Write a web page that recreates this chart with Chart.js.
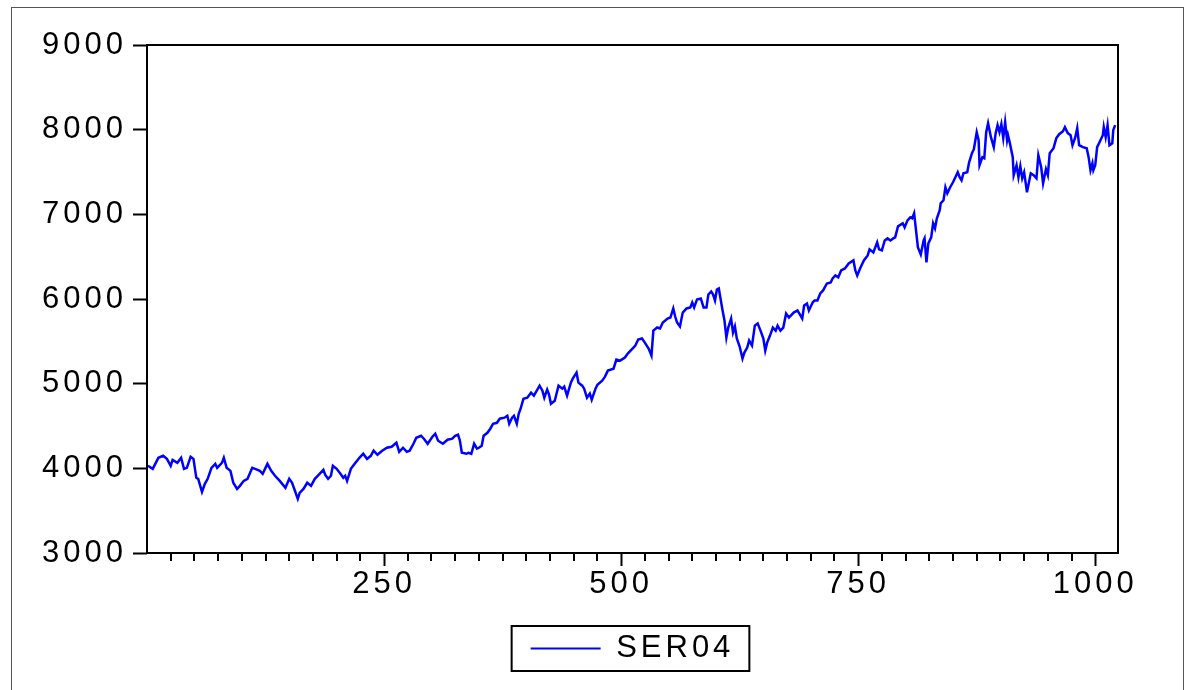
<!DOCTYPE html>
<html>
<head>
<meta charset="utf-8">
<script src="https://cdn.jsdelivr.net/npm/chart.js@4/dist/chart.umd.min.js"></script>
<style>
  html, body { margin: 0; padding: 0; background: #fff; }
  #wrap { width: 1185px; height: 690px; }
</style>
</head>
<body>
<div id="wrap"><canvas id="myChart" width="1185" height="690"></canvas></div>
<script>
/* globals Chart:false */

const obs = [1,6,12,17,21,25,27,32,36,39,42,46,49,52,54,58,61,64,68,72,74,79,81,84,88,91,95,98,102,106,111,114,119,122,127,131,135,140,146,150,153,156,159,
  161,165,169,173,177,180,186,188,191,194,196,200,204,207,209,211,215,219,224,228,232,236,239,243,248,253,258,263,266,270,274,277,281,284,289,292,296,
  301,304,307,312,317,322,325,328,330,332,337,339,342,345,348,350,353,355,359,362,365,369,372,377,380,382,385,387,390,392,394,397,
  401,405,408,414,417,419,422,424,426,430,434,438,440,443,447,449,453,455,459,461,464,467,469,473,475,480,483,486,492,495,499,
  504,507,512,515,518,522,525,529,532,534,538,541,544,549,552,555,557,559,562,565,569,573,575,577,580,584,587,590,592,595,597,599,
  601,603,607,609,611,613,616,618,620,622,625,628,630,633,635,638,641,644,647,650,652,654,657,660,663,665,668,671,674,677,682,686,688,691,693,696,698,
  702,704,707,710,713,717,721,723,726,729,732,736,740,745,747,749,752,756,760,762,766,768,770,772,775,778,781,784,787,789,792,797,799,
  802,805,807,809,811,813,816,819,820,822,824,827,829,831,833,836,837,840,842,844,847,850,855,857,859,861,865,867,870,872,875,877,878,881,883,885,887,890,893,895,897,899,
  901,903,905,907,908,910,913,914,917,919,921,923,925,927,928,932,935,938,940,943,945,948,950,952,956,959,962,966,968,971,974,976,979,981,983,987,991,993,995,997,998,
  1000,1002,1004,1008,1009,1011,1013,1015,1018,1019,1021];
const ser04 = [4030,3994,4124,4148,4112,4030,4100,4065,4124,3994,4006,4136,4112,3888,3876,3722,3817,3876,4006,4053,4006,4065,4124,4006,3970,3830,3757,3793,3852,3876,4006,3994,3970,3935,4053,3970,3912,3852,3770,3876,3830,3735,3640,
  3710,3757,3830,3793,3876,3912,3982,3923,3876,3912,4030,3994,3935,3888,3912,3852,3994,4053,4124,4172,4112,4148,4208,4160,4208,4243,4255,4302,4195,4243,4195,4208,4290,4361,4385,4350,4290,
  4373,4409,4326,4290,4338,4350,4385,4397,4326,4184,4172,4184,4172,4290,4232,4243,4267,4385,4420,4468,4527,4538,4586,4598,4621,4527,4598,4621,4527,4645,4704,4822,
  4834,4893,4858,4976,4917,4834,4929,4870,4763,4799,4976,4941,4964,4858,5012,5059,5130,5012,4976,4941,4834,4882,4811,4941,4988,5036,5083,5154,5177,5284,5272,
  5308,5355,5414,5450,5521,5533,5485,5414,5331,5627,5663,5651,5722,5769,5781,5888,5793,5722,5675,5840,5888,5900,5959,5900,5994,6006,5900,5900,6053,6089,6053,5982,
  6112,6124,5864,5746,5545,5663,5769,5604,5675,5533,5438,5296,5367,5426,5509,5450,5686,5710,5627,5533,5391,5485,5568,5663,5627,5686,5627,5663,5828,5781,5840,5864,5828,5769,5923,5947,5864,
  5959,5982,5982,6065,6101,6183,6195,6243,6278,6255,6337,6361,6420,6456,6337,6278,6361,6456,6515,6586,6550,6610,6669,6586,6574,6692,6716,6692,6716,6728,6858,6894,6846,
  6929,6965,6953,7012,6811,6610,6527,6692,6716,6432,6657,6728,6894,6835,6953,7048,7130,7166,7320,7249,7320,7379,7497,7438,7402,7485,7497,7615,7722,7769,7970,7876,7580,7675,7663,7970,8077,7911,7793,7959,8053,7970,
  8065,7900,8089,7876,7935,7840,7675,7462,7580,7438,7568,7426,7497,7343,7260,7485,7462,7426,7698,7556,7367,7533,7462,7722,7781,7900,7947,7982,8030,7959,7935,7817,7911,8018,7817,7793,7781,7675,7521,7604,7521,
  7580,7793,7840,7935,8030,7911,8053,7817,7840,7994,8053];

const xTicks = [250, 500, 750, 1000];
const yTicks = [3000, 4000, 5000, 6000, 7000, 8000, 9000];

const FONT = "'Liberation Sans', Arial, sans-serif";
const SPACING = '4px';

// eviews style frame, minor ticks, legend box
const framePlugin = {
  id: 'frame',
  beforeUpdate(chart) { chart.ctx.letterSpacing = SPACING; },
  beforeDraw(chart) {
    const ctx = chart.ctx;
    ctx.letterSpacing = SPACING;
    ctx.save();
    ctx.strokeStyle = '#555';
    ctx.lineWidth = 1;
    ctx.strokeRect(11.5, 7.5, 1172, 720);
    ctx.restore();
  },
  afterDraw(chart) {
    const ctx = chart.ctx;
    const a = chart.chartArea;
    const xs = chart.scales.x;
    ctx.save();
    ctx.strokeStyle = '#000';
    ctx.lineWidth = 2;
    ctx.strokeRect(a.left, a.top, a.right - a.left, a.bottom - a.top);
    ctx.beginPath();
    for (let v = 25; v < xs.max; v += 25) {
      if (v % 250 === 0) continue;
      const px = Math.round(xs.getPixelForValue(v));
      ctx.moveTo(px, a.bottom);
      ctx.lineTo(px, a.bottom + 8);
    }
    ctx.stroke();
    // box round the legend
    const hb = chart.legend.legendHitBoxes[0];
    if (hb) {
      ctx.lineWidth = 2;
      ctx.strokeRect(hb.left - 19, chart.legend.top + 3, hb.width + 34, 45);
    }
    ctx.restore();
  }
};

new Chart(document.getElementById('myChart'), {
  type: 'line',
  data: {
    datasets: [{
      label: 'SER04',
      data: obs.map((o, i) => ({ x: o, y: ser04[i] })),
      borderColor: '#0000FF',
      backgroundColor: '#0000FF',
      borderWidth: 2.5,
      pointRadius: 0,
      tension: 0
    }]
  },
  options: {
    responsive: false,
    animation: false,
    events: [],
    layout: { padding: { left: 0, right: 67, top: 45, bottom: 16 } },
    scales: {
      x: {
        type: 'linear',
        min: 0,
        max: 1024,
        afterBuildTicks: (s) => { s.ticks = xTicks.map(v => ({ value: v })); },
        afterFit: (s) => { s.height = 70; },
        border: { display: false },
        grid: { drawOnChartArea: false, tickLength: 13, tickWidth: 2, tickColor: '#000' },
        ticks: { color: '#000', padding: 0, maxRotation: 0, callback: (v) => String(v), font: { family: FONT, size: 31 } }
      },
      y: {
        min: 3000,
        max: 9000,
        afterBuildTicks: (s) => { s.ticks = yTicks.map(v => ({ value: v })); },
        afterFit: (s) => { s.width = 147; },
        border: { display: false },
        grid: { drawOnChartArea: false, tickLength: 14, tickWidth: 2, tickColor: '#000' },
        ticks: { color: '#000', padding: 6, callback: (v) => String(v), font: { family: FONT, size: 31 } }
      }
    },
    plugins: {
      tooltip: { enabled: false },
      legend: {
        position: 'bottom',
        fullSize: false,
        labels: {
          color: '#000',
          boxWidth: 70,
          boxHeight: 2,
          padding: 10,
          font: { family: FONT, size: 31 },
          generateLabels: (chart) => Chart.defaults.plugins.legend.labels.generateLabels(chart)
            .map(l => ({ ...l, lineWidth: 0, fillStyle: '#0000FF' }))
        }
      }
    }
  },
  plugins: [framePlugin]
});
</script>
</body>
</html>
